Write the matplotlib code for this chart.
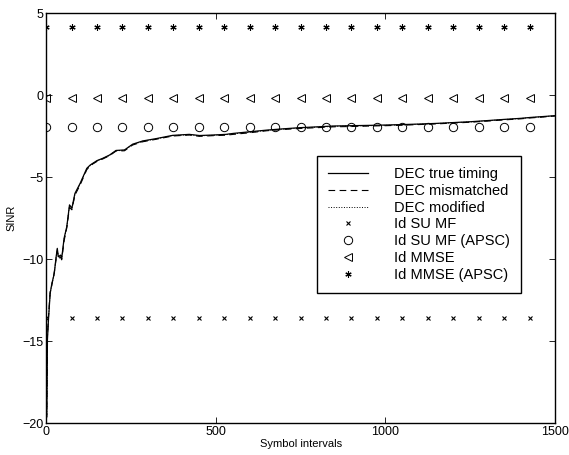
import numpy as np
import matplotlib
matplotlib.use('Agg')
import matplotlib.pyplot as plt

plt.rcParams['font.family'] = ['Liberation Sans', 'DejaVu Sans']

# DEC curves
dec_x = [0, 2, 3, 4, 7, 12, 17, 24, 29, 33, 36, 43, 46, 53, 61, 69, 76, 85,
         100, 120, 130, 138, 150, 167, 187, 206, 231, 255, 285, 324, 373,
         422, 452, 490, 530, 552, 601, 650, 700, 749, 800, 847, 900, 955,
         1000, 1053, 1100, 1151, 1200, 1250, 1300, 1348, 1400, 1426, 1460, 1500]
dec_true = [-19.8, -19.6, -17.4, -14.9, -13.7, -12.1, -11.5, -10.9, -9.96,
            -9.35, -9.86, -9.76, -9.96, -8.74, -8.03, -6.7, -6.9, -6.0,
            -5.4, -4.47, -4.27, -4.16, -4.0, -3.86, -3.66, -3.38, -3.35,
            -3.0, -2.8, -2.66, -2.46, -2.4, -2.47, -2.44, -2.4, -2.34, -2.24,
            -2.14, -2.06, -1.99, -1.94, -1.89, -1.87, -1.85, -1.83, -1.8,
            -1.77, -1.73, -1.68, -1.63, -1.56, -1.49, -1.42, -1.37, -1.32, -1.26]
dec_mismatch = [-19.8, -19.5, -17.2, -14.7, -13.5, -12.0, -11.6, -10.8, -10.1,
                -9.5, -9.95, -9.9, -10.05, -8.9, -8.1, -6.85, -7.0, -6.1,
                -5.5, -4.55, -4.32, -4.2, -4.05, -3.9, -3.7, -3.42, -3.4,
                -3.05, -2.85, -2.7, -2.5, -2.44, -2.52, -2.48, -2.45, -2.4,
                -2.3, -2.18, -2.1, -2.04, -1.99, -1.94, -1.92, -1.89, -1.87,
                -1.84, -1.8, -1.76, -1.71, -1.66, -1.59, -1.52, -1.45, -1.4,
                -1.35, -1.28]
dec_modified = [-19.8, -19.6, -17.3, -14.8, -13.6, -12.1, -11.5, -10.9, -10.0,
                -9.4, -9.9, -9.8, -10.0, -8.8, -8.05, -6.75, -6.95, -6.05,
                -5.45, -4.5, -4.3, -4.18, -4.02, -3.88, -3.68, -3.4, -3.37,
                -3.02, -2.82, -2.68, -2.48, -2.42, -2.49, -2.46, -2.42, -2.37,
                -2.27, -2.16, -2.08, -2.01, -1.96, -1.91, -1.89, -1.87, -1.85,
                -1.82, -1.78, -1.74, -1.69, -1.64, -1.57, -1.5, -1.43, -1.38,
                -1.33, -1.27]

# ideal levels, marked every 75 symbols
mark_x = np.arange(0, 1500, 75)
su_mf = -13.6
su_mf_apsc = -1.95
mmse = -0.2
mmse_apsc = 4.15

fig = plt.figure(figsize=(5.69, 4.55), dpi=100)
ax = fig.add_axes([0.081, 0.0703, 0.8945, 0.9011])

ax.plot(dec_x, dec_true, '-', color='k', lw=0.9, label='DEC true timing')
ax.plot(dec_x, dec_mismatch, '--', color='k', lw=0.8, dashes=(6, 4), label='DEC mismatched')
ax.plot(dec_x, dec_modified, ':', color='k', lw=0.7, label='DEC modified')
ax.plot(mark_x, np.full(len(mark_x), su_mf), 'x', color='k', ms=3.5, mew=0.8,
        label='Id SU MF')
ax.plot(mark_x, np.full(len(mark_x), su_mf_apsc), 'o', color='k', mfc='none', ms=6,
        mew=0.7, label='Id SU MF (APSC)')
ax.plot(mark_x, np.full(len(mark_x), mmse), '<', color='k', mfc='none', ms=5.5,
        mew=0.7, label='Id MMSE')
ax.plot(mark_x, np.full(len(mark_x), mmse_apsc), marker=(6, 2, 0), ls='none', color='k',
        ms=4.5, mew=0.8, label='Id MMSE (APSC)')

ax.set_xlim(0, 1500)
ax.set_ylim(-20, 5)
ax.set_xticks([0, 500, 1000, 1500])
ax.set_yticks([-20, -15, -10, -5, 0, 5])
ax.set_yticklabels(['\u221220', '\u221215', '\u221210', '\u22125', '0', '5'])
ax.tick_params(direction='in', top=True, right=True, labelsize=9, length=4, width=0.6, pad=2)
for s in ax.spines.values():
    s.set_linewidth(1.0)
ax.set_xlabel('Symbol intervals', fontsize=8, labelpad=1)
ax.set_ylabel('SINR', fontsize=8, labelpad=4)

leg = ax.legend(loc='lower right', bbox_to_anchor=(0.9326, 0.318), fontsize=10.5,
                frameon=True, fancybox=False, edgecolor='k', framealpha=1,
                handlelength=2.7, handletextpad=1.8, labelspacing=0.19,
                borderpad=0.75, borderaxespad=0)
leg.get_frame().set_linewidth(1.0)

fig.savefig('out.png', dpi=100)
